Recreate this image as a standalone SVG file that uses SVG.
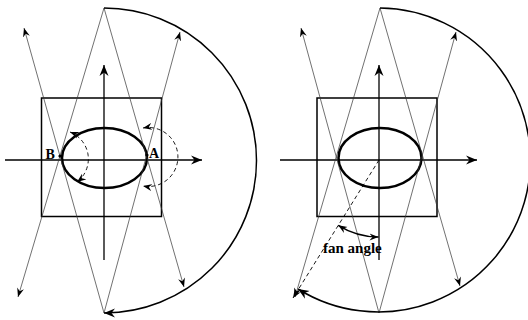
<svg xmlns="http://www.w3.org/2000/svg" width="528" height="320" viewBox="0 0 528 320">
<style>
.frame{fill:none;stroke:#000;stroke-width:1.5}
.axis{fill:none;stroke:#000;stroke-width:1.3}
.ell{fill:none;stroke:#000;stroke-width:2.5}
.ray{fill:none;stroke:#333;stroke-width:0.7}
.big{fill:none;stroke:#000;stroke-width:1.5}
.dash{fill:none;stroke:#000;stroke-width:0.9;stroke-dasharray:4 3}
.lbl{font-family:"Liberation Serif","Times New Roman",serif;font-weight:bold;fill:#000}
</style>
<defs>
<marker id="ah" viewBox="-11 -5 12 10" refX="0" refY="0" markerWidth="12" markerHeight="10" markerUnits="userSpaceOnUse" orient="auto-start-reverse">
<path d="M0,0 L-11,-4.5 L-7.5,0 L-11,4.5 Z" fill="#000"/>
</marker>
<marker id="ahs" viewBox="-9 -4 10 8" refX="0" refY="0" markerWidth="10" markerHeight="8" markerUnits="userSpaceOnUse" orient="auto-start-reverse">
<path d="M0,0 L-9,-3.5 L-6,0 L-9,3.5 Z" fill="#000"/>
</marker>
</defs>
<rect width="528" height="320" fill="#fff"/>

<g id="left">
<rect class="frame" x="41.5" y="98" width="120" height="118.5"/>
<line class="axis" x1="5" y1="160" x2="202" y2="160" marker-end="url(#ah)"/>
<line class="axis" x1="104" y1="260" x2="104" y2="65" marker-end="url(#ah)"/>
<ellipse class="ell" cx="104.5" cy="158" rx="42.5" ry="30"/>
</g>
<g id="left-connectors">
<line class="ray" x1="104" y1="8" x2="18" y2="297" marker-end="url(#ahs)"/>
<line class="ray" x1="104" y1="313" x2="24" y2="28" marker-end="url(#ahs)"/>
<line class="ray" x1="104" y1="8" x2="184" y2="287" marker-end="url(#ahs)"/>
<line class="ray" x1="104" y1="313" x2="180" y2="32" marker-end="url(#ahs)"/>
<path class="big" d="M104,8 A152,152 0 0 1 104,313" marker-end="url(#ah)"/>
<path class="dash" d="M70,132 A29,29 0 0 1 77,182" marker-start="url(#ahs)" marker-end="url(#ahs)"/>
<path class="dash" d="M143,128 A29.5,29.5 0 1 1 143,186" marker-start="url(#ahs)" marker-end="url(#ahs)"/>
</g>
<g id="point-B">
<circle cx="60" cy="156" r="1.6" fill="#000"/>
<text class="lbl" x="45.5" y="158.5" font-size="14">B</text>
</g>
<g id="point-A">
<circle cx="147" cy="155" r="1.6" fill="#000"/>
<text class="lbl" x="149" y="157.5" font-size="14">A</text>
</g>

<g id="right">
<rect class="frame" x="317" y="98" width="120" height="118.5"/>
<line class="axis" x1="280" y1="160" x2="477" y2="160" marker-end="url(#ah)"/>
<line class="axis" x1="379" y1="260" x2="379" y2="65" marker-end="url(#ah)"/>
<ellipse class="ell" cx="380" cy="158" rx="41.5" ry="30"/>
</g>
<g id="right-connectors">
<line class="ray" x1="380" y1="8" x2="295" y2="297" marker-end="url(#ahs)"/>
<line class="ray" x1="379" y1="313" x2="301" y2="28" marker-end="url(#ahs)"/>
<line class="ray" x1="380" y1="8" x2="460" y2="286" marker-end="url(#ahs)"/>
<line class="ray" x1="379" y1="313" x2="456" y2="32" marker-end="url(#ahs)"/>
<path class="big" d="M380,8 A152,152 0 1 1 298,289" marker-end="url(#ah)"/>
<line class="dash" x1="379" y1="160" x2="293" y2="298" marker-end="url(#ahs)"/>
<path class="big" d="M338.2,225.3 A77,77 0 0 0 378.5,237" marker-start="url(#ahs)" marker-end="url(#ahs)"/>
</g>
<g id="fan-angle-label">
<text class="lbl" x="323" y="253" font-size="15">fan angle</text>
</g>
</svg>
